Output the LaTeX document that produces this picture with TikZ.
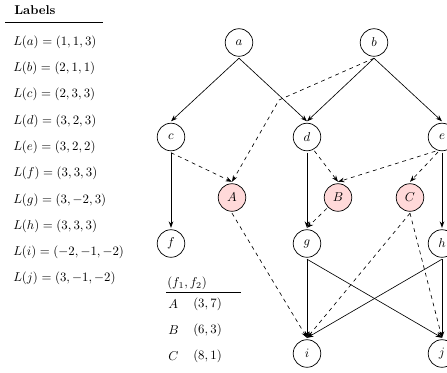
\documentclass[tikz,border=0pt]{standalone}
\usetikzlibrary{arrows.meta}
\begin{document}
\begin{tikzpicture}[x=0.78pt,y=-0.78pt,
  vtx/.style={circle,draw,line width=0.55pt,minimum size=21.5pt,inner sep=1pt,outer sep=1.5pt},
  opt/.style={vtx,fill=red!15},
  arr/.style={-{Stealth[length=5pt,width=3.6pt]},line width=0.5pt},
  darr/.style={arr,dashed},
  lbl/.style={anchor=west,inner sep=0pt}]
\useasboundingbox (0,0) rectangle (447,372);
% nodes
\node[vtx] (a) at (239,42.5) {$a$};
\node[vtx] (b) at (374,42.5) {$b$};
\node[vtx] (c) at (171,137) {$c$};
\node[vtx] (d) at (307,137) {$d$};
\node[vtx] (e) at (442,137) {$e$};
\node[opt] (A) at (232,197.5) {$A$};
\node[opt] (B) at (338,197.5) {$B$};
\node[opt] (C) at (410,197.5) {$C$};
\node[vtx] (f) at (171,243.5) {$f$};
\node[vtx] (g) at (307,243.5) {$g$};
\node[vtx] (h) at (442,243.5) {$h$};
\node[vtx] (i) at (307,353.5) {$i$};
\node[vtx] (j) at (442,353.5) {$j$};
\coordinate (bend) at (279,100);
% solid edges
\draw[arr] (a.south) -- (c.north);
\draw[arr] (a.south) -- (d.north);
\draw[arr] (b.south) -- (d.north);
\draw[arr] (b.south) -- (e.north);
\draw[arr] (c.south) -- (f.north);
\draw[arr] (d.south) -- (g.north);
\draw[arr] (e.south) -- (h.north);
\draw[arr] (g.south) -- (i.north);
\draw[arr] (g.south) -- (j.north);
\draw[arr] (h.south) -- (i.north);
\draw[arr] (h.south) -- (j.north);
% dashed edges
\draw[darr] (b.south) -- (bend) -- (A.north);
\draw[darr] (c.south) -- (A.north);
\draw[darr] (d.-62) -- (B.north);
\draw[darr] (e.-115) -- (B.north);
\draw[darr] (e.-105) -- (C.north);
\draw[darr] (A.south) -- (i.north);
\draw[darr] (B) -- (g.north);
\draw[darr] (C.south) -- (i.north);
\draw[darr] (C.south) -- (j.north);
% labels table
\node[lbl,font=\bfseries] (title) at (14,10) {Labels};
\coordinate (r1) at (5,22.5);
\coordinate (r2) at (103,22.5);
\draw[line width=0.6pt] (r1) -- (r2);
\node[lbl] (la) at (13,42) {$L(a)=(1,1,3)$};
\node[lbl] (lb) at (13,68.3) {$L(b)=(2,1,1)$};
\node[lbl] (lc) at (13,94.6) {$L(c)=(2,3,3)$};
\node[lbl] (ld) at (13,120.9) {$L(d)=(3,2,3)$};
\node[lbl] (le) at (13,147.2) {$L(e)=(3,2,2)$};
\node[lbl] (lf) at (13,173.5) {$L(f)=(3,3,3)$};
\node[lbl] (lg) at (13,199.8) {$L(g)=(3,-2,3)$};
\node[lbl] (lh) at (13,226.1) {$L(h)=(3,3,3)$};
\node[lbl] (li) at (13,252.4) {$L(i)=(-2,-1,-2)$};
\node[lbl] (lj) at (13,278.7) {$L(j)=(3,-1,-2)$};
% objective table
\node[lbl] (fh) at (167,283) {$(f_1,f_2)$};
\coordinate (s1) at (166,292.5);
\coordinate (s2) at (241,292.5);
\draw[line width=0.6pt] (s1) -- (s2);
\node[lbl] (tA) at (168,304) {$A$};
\node[lbl] (vA) at (193,304) {$(3,7)$};
\node[lbl] (tB) at (168,330) {$B$};
\node[lbl] (vB) at (193,330) {$(6,3)$};
\node[lbl] (tC) at (168,356) {$C$};
\node[lbl] (vC) at (193,356) {$(8,1)$};
\end{tikzpicture}
\end{document}
